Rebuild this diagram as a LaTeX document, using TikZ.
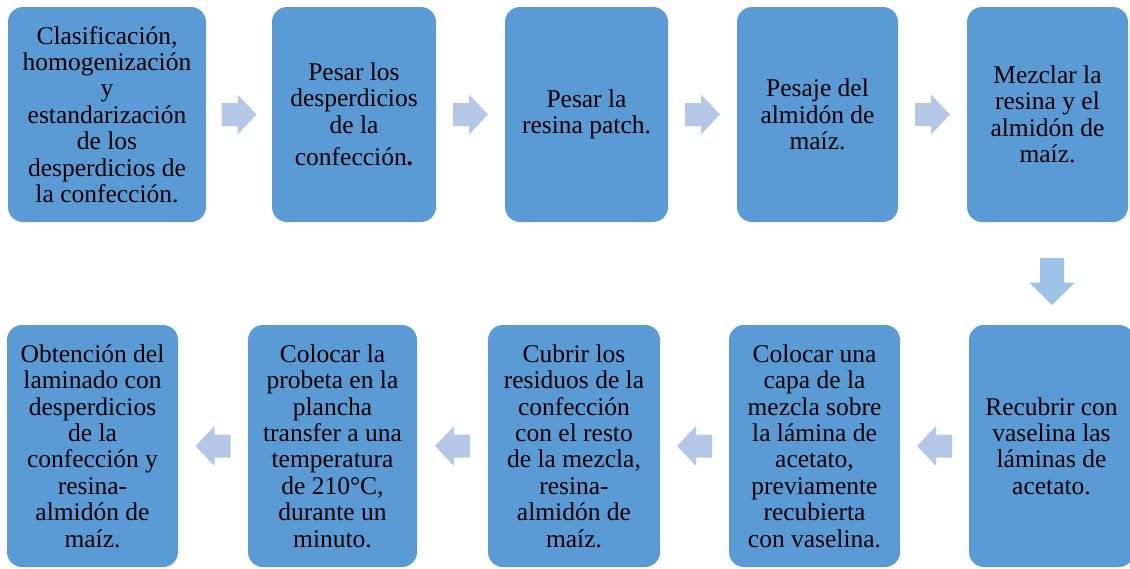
\documentclass[tikz,border=0pt]{standalone}
\usepackage{fontspec}
\setmainfont{Liberation Serif}
\usetikzlibrary{calc}
\definecolor{boxblue}{HTML}{5B9BD5}
\definecolor{arrowlight}{HTML}{B4C7E7}
\definecolor{arrowdown}{HTML}{9DC3E6}
\begin{document}
\begin{tikzpicture}[x=1pt,y=-1pt,
  stepbox/.style={rectangle, rounded corners=15pt, fill=boxblue, draw=none,
    align=center, inner sep=0pt, text=black,
    font=\fontsize{25.5}{26.4}\selectfont},
  topbox/.style={stepbox, minimum height=215pt},
  botbox/.style={stepbox, minimum height=242pt},
  hblock/.pic={\fill[arrowlight] (-17.5,-11.5) -- (-1.5,-11.5) -- (-1.5,-20) -- (17.5,0)
     -- (-1.5,20) -- (-1.5,11.5) -- (-17.5,11.5) -- cycle;},
  dblock/.pic={\fill[arrowdown] (-12,-23.5) -- (12,-23.5) -- (12,1) -- (23,1) -- (0,23.5)
     -- (-23,1) -- (-12,1) -- cycle;}
]
\useasboundingbox (0,0) rectangle (1130,568);
\clip (0,0) rectangle (1130,568);
% top row
\node[topbox, minimum width=198pt] (b1) at (107,114.5)
  {Clasificación,\\homogenización\\y\\estandarización\\de los\\desperdicios de\\la confección.};
\node[topbox, minimum width=164pt] (b2) at (354,114.5)
  {Pesar los\\desperdicios\\de la\\[6pt]confección\textbf{.}};
\node[topbox, minimum width=163pt] (b3) at (586.5,114.5)
  {Pesar la\\resina patch.};
\node[topbox, minimum width=161pt] (b4) at (817.5,114.5)
  {Pesaje del\\almidón de\\maíz.};
\node[topbox, minimum width=161pt] (b5) at (1047.5,114.5)
  {Mezclar la\\resina y el\\almidón de\\maíz.};
% bottom row
\node[botbox, minimum width=165pt] (c5) at (1051.5,446)
  {Recubrir con\\vaselina las\\láminas de\\acetato.};
\node[botbox, minimum width=171pt] (c4) at (814.5,446)
  {Colocar una\\capa de la\\mezcla sobre\\la lámina de\\acetato,\\previamente\\recubierta\\con vaselina.};
\node[botbox, minimum width=172pt] (c3) at (574,446)
  {Cubrir los\\residuos de la\\confección\\con el resto\\de la mezcla,\\resina-\\almidón de\\maíz.};
\node[botbox, minimum width=169pt] (c2) at (332.5,446)
  {Colocar la\\probeta en la\\plancha\\transfer a una\\temperatura\\de 210°C,\\durante un\\minuto.};
\node[botbox, minimum width=171pt] (c1) at (92.5,446)
  {Obtención del\\laminado con\\desperdicios\\de la\\confección y\\resina-\\almidón de\\maíz.};
% arrow positions
\coordinate (a12) at ($(b1.east)!0.5!(b2.west)$);
\coordinate (a23) at ($(b2.east)!0.5!(b3.west)$);
\coordinate (a34) at ($(b3.east)!0.5!(b4.west)$);
\coordinate (a45) at ($(b4.east)!0.5!(b5.west)$);
\coordinate (a5d) at (1052,281.5);
\coordinate (ad4) at ($(c4.east)!0.5!(c5.west)$);
\coordinate (a43) at ($(c3.east)!0.5!(c4.west)$);
\coordinate (a32) at ($(c2.east)!0.5!(c3.west)$);
\coordinate (a21) at ($(c1.east)!0.5!(c2.west)$);
% block arrows
\pic at (a12) {hblock};
\pic at (a23) {hblock};
\pic at (a34) {hblock};
\pic at (a45) {hblock};
\pic at (a5d) {dblock};
\pic[xscale=-1] at (ad4) {hblock};
\pic[xscale=-1] at (a43) {hblock};
\pic[xscale=-1] at (a32) {hblock};
\pic[xscale=-1] at (a21) {hblock};
\end{tikzpicture}
\end{document}
